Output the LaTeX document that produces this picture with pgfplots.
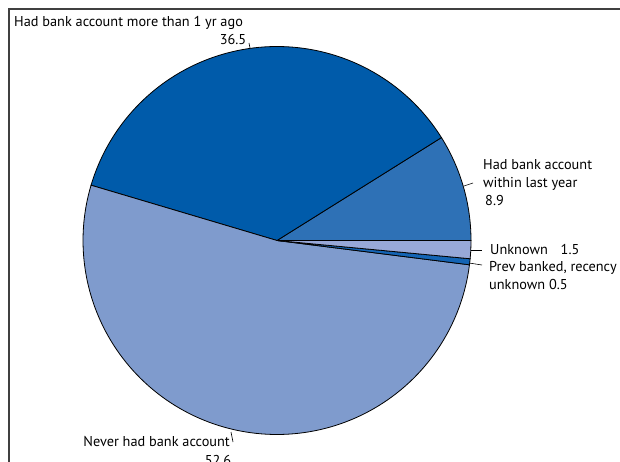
\documentclass[border=0pt]{standalone}
\usepackage{pgfplots}
\pgfplotsset{compat=1.18}
\usepackage{fontspec}
\setmainfont{PT Sans}
\definecolor{cA}{RGB}{46,113,182}
\definecolor{cB}{RGB}{0,91,170}
\definecolor{cC}{RGB}{127,155,205}
\definecolor{cD}{RGB}{20,100,180}
\definecolor{cE}{RGB}{152,168,216}
\begin{document}
\begin{tikzpicture}
\begin{axis}[
  x=1pt, y=1pt, scale only axis,
  xmin=0, xmax=620, ymin=0, ymax=461,
  hide axis, clip=true,
]
% shares in percent: 8.9 | 36.5 | 52.6 | 0.5 | 1.5 (start at east, counterclockwise)
\def\cx{277}\def\cy{220.5}\def\r{194}
\addplot[fill=cA, draw=black, line width=0.8pt, domain=0:8.9, samples=30]
  ({\cx+\r*cos(3.6*x)},{\cy+\r*sin(3.6*x)}) -- (axis cs:\cx,\cy) -- cycle;
\addplot[fill=cB, draw=black, line width=0.8pt, domain=8.9:45.4, samples=80]
  ({\cx+\r*cos(3.6*x)},{\cy+\r*sin(3.6*x)}) -- (axis cs:\cx,\cy) -- cycle;
\addplot[fill=cC, draw=black, line width=0.8pt, domain=45.4:98.0, samples=120]
  ({\cx+\r*cos(3.6*x)},{\cy+\r*sin(3.6*x)}) -- (axis cs:\cx,\cy) -- cycle;
\addplot[fill=cD, draw=black, line width=0.8pt, domain=98.0:98.5, samples=5]
  ({\cx+\r*cos(3.6*x)},{\cy+\r*sin(3.6*x)}) -- (axis cs:\cx,\cy) -- cycle;
\addplot[fill=cE, draw=black, line width=0.8pt, domain=98.5:100, samples=8]
  ({\cx+\r*cos(3.6*x)},{\cy+\r*sin(3.6*x)}) -- (axis cs:\cx,\cy) -- cycle;
% frame
\addplot[draw=black!75, line width=1.4pt] coordinates {(9,-5) (9,452) (625,452)};
% leader lines
\addplot[black, line width=0.6pt] coordinates {(249,418) (250,413)};
\addplot[black, line width=0.6pt] coordinates {(464,275) (473,278)};
\addplot[black, line width=0.6pt] coordinates {(471,211) (482,211)};
\addplot[black, line width=0.6pt] coordinates {(469,198) (482,196)};
\addplot[black, line width=0.6pt] coordinates {(231,29) (233,19)};
% labels
\node[anchor=base west, font=\fontsize{14.3}{16}\selectfont, inner sep=0pt] at (axis cs:14,434) {Had bank account more than 1 yr ago};
\node[anchor=base, font=\fontsize{14.3}{16}\selectfont, inner sep=0pt] at (axis cs:233,416) {36.5};
\node[anchor=base west, font=\fontsize{14.3}{16}\selectfont, inner sep=0pt] at (axis cs:483,291) {Had bank account};
\node[anchor=base west, font=\fontsize{14.3}{16}\selectfont, inner sep=0pt] at (axis cs:483,273) {within last year};
\node[anchor=base west, font=\fontsize{14.3}{16}\selectfont, inner sep=0pt] at (axis cs:485,255) {8.9};
\node[anchor=base west, font=\fontsize{14.3}{16}\selectfont, inner sep=0pt] at (axis cs:490,207) {Unknown\hspace{0.9em}1.5};
\node[anchor=base west, font=\fontsize{14.3}{16}\selectfont, inner sep=0pt] at (axis cs:489,190) {Prev banked, recency};
\node[anchor=base west, font=\fontsize{14.3}{16}\selectfont, inner sep=0pt] at (axis cs:489,172) {unknown 0.5};
\node[anchor=base east, font=\fontsize{14.3}{16}\selectfont, inner sep=0pt] at (axis cs:230,15) {Never had bank account};
\node[anchor=base, font=\fontsize{14.3}{16}\selectfont, inner sep=0pt] at (axis cs:218,-4) {52.6};
\end{axis}
\pgfresetboundingbox
\path (0,0) rectangle (620pt,461pt);
\end{tikzpicture}
\end{document}
